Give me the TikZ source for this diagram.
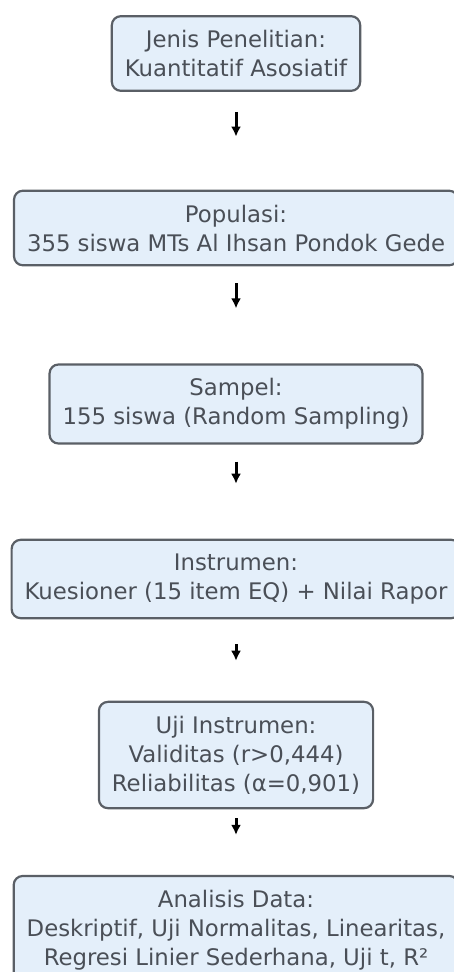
\documentclass[tikz,border=0pt]{standalone}
\usepackage{fontspec}
\setmainfont{DejaVu Sans}
\usetikzlibrary{arrows.meta,positioning}

\definecolor{boxfill}{HTML}{E4EFFA}
\definecolor{boxline}{HTML}{5A5F66}
\definecolor{boxtext}{HTML}{4A4F57}

\tikzset{
  stepbox/.style={draw=boxline, line width=2.2pt, fill=boxfill, rounded corners=9pt,
    align=center, text=boxtext, font=\fontsize{22.8}{29}\selectfont,
    inner xsep=13pt, inner ysep=14pt},
  flowarrow/.style={-{Latex[length=10pt,width=10pt]}, line width=3pt, black}
}

\begin{document}
\begin{tikzpicture}[x=1pt,y=-1pt]
		\useasboundingbox (0,0) rectangle (453,972);

		% Boxes (centred on one axis)
		\node[stepbox] (jenis) at (236,53.5) {Jenis Penelitian:\\Kuantitatif Asosiatif};
		\node[stepbox] (populasi) at (236,228) {Populasi:\\355 siswa MTs Al Ihsan Pondok Gede};
		\node[stepbox] (sampel) at (236,404) {Sampel:\\155 siswa (Random Sampling)};
		\node[stepbox] (instrumen) at (236,579) {Instrumen:\\Kuesioner (15 item EQ) + Nilai Rapor};
		\node[stepbox] (uji) at (236,755) {Uji Instrumen:\\Validitas (r>0,444)\\Reliabilitas (α=0,901)};
		\node[stepbox] (analisis) at (236,930) {Analisis Data:\\Deskriptif, Uji Normalitas, Linearitas,\\Regresi Linier Sederhana, Uji t, R²};

		% Short arrows in the gaps
		\draw[flowarrow, shorten <=20pt, shorten >=53pt] (jenis) -- (populasi);
		\draw[flowarrow, shorten <=17pt, shorten >=55pt] (populasi) -- (sampel);
		\draw[flowarrow, shorten <=17pt, shorten >=55pt] (sampel) -- (instrumen);
		\draw[flowarrow, shorten <=25pt, shorten >=40pt] (instrumen) -- (uji);
		\draw[flowarrow, shorten <=9pt, shorten >=40pt] (uji) -- (analisis);
	\end{tikzpicture}
\end{document}
